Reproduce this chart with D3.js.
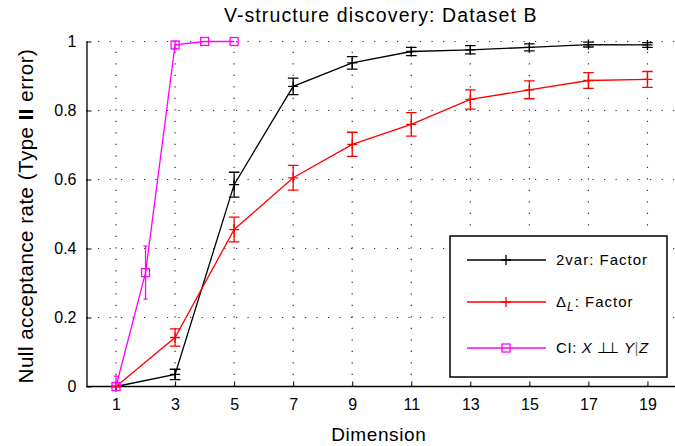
<!DOCTYPE html>
<html>
<head>
<meta charset="utf-8">
<script src="https://cdn.jsdelivr.net/npm/d3@7"></script>
<style>
  body { margin: 0; background: #fff; }
  svg { display: block; font-family: "Liberation Sans", Arial, sans-serif; }
</style>
</head>
<body>
<div id="plot"></div>
<script>
/* V-structure discovery, null acceptance rate vs dimension */

const dims = [1, 3, 5, 7, 9, 11, 13, 15, 17, 19]
const twoVar = [0, 0.035, 0.585, 0.87, 0.938, 0.971, 0.976, 0.983, 0.991, 0.990]
const twoVarErr = [0, 0.015, 0.036, 0.024, 0.018, 0.012, 0.012, 0.010, 0.007, 0.007]
const deltaL = [0, 0.142, 0.455, 0.605, 0.702, 0.760, 0.832, 0.860, 0.887, 0.890]
const deltaLErr = [0, 0.025, 0.036, 0.036, 0.035, 0.034, 0.028, 0.026, 0.023, 0.023]
const ciDims = [1, 2, 3, 4, 5]
const ci = [0, 0.33, 0.99, 1, 1]
const ciErr = [0.03, 0.077, 0.01, 0, 0]

const xTicks = [1, 3, 5, 7, 9, 11, 13, 15, 17, 19]
const yTicks = [0, 0.2, 0.4, 0.6, 0.8, 1]

const width = 675, height = 446
const margin = {top: 41.5, right: -2, bottom: 59.5, left: 86.5}

const svg = d3.select("#plot").append("svg")
	.attr("width", width)
	.attr("height", height)

const x = d3.scaleLinear()
	.domain([0, 20])
	.range([margin.left, width - margin.right])

const y = d3.scaleLinear()
	.domain([0, 1])
	.range([height - margin.bottom, margin.top])

svg.append("defs").append("clipPath").attr("id", "clip")
	.append("rect")
	.attr("x", margin.left).attr("y", margin.top - 1)
	.attr("width", width - margin.left).attr("height", y(0) - margin.top + 1)

// dotted grid
const grid = svg.append("g").attr("stroke", "#333").attr("stroke-width", 1.2)
	.attr("stroke-dasharray", "1.2,10.3")
grid.selectAll(".hg").data(yTicks.filter(d => d > 0)).join("line")
	.attr("x1", margin.left).attr("x2", width)
	.attr("y1", d => y(d)).attr("y2", d => y(d))
grid.selectAll(".vg").data(xTicks).join("line")
	.attr("x1", d => x(d)).attr("x2", d => x(d))
	.attr("y1", y(0)).attr("y2", y(1))

// axes
svg.append("g")
	.attr("transform", `translate(0,${y(0)})`)
	.call(d3.axisBottom(x).tickValues(xTicks).tickSizeInner(-5).tickSizeOuter(0).tickPadding(12))
	.call(g => g.select(".domain").attr("d", `M${margin.left},0H${width}`).attr("stroke-width", 1.3))
	.call(g => g.selectAll("text").attr("font-size", 16).attr("font-family", "Liberation Sans").attr("fill", "#000"))

svg.append("g")
	.attr("transform", `translate(${margin.left},0)`)
	.call(d3.axisLeft(y).tickValues(yTicks).tickFormat(d3.format("~g")).tickSizeInner(-5).tickSizeOuter(0).tickPadding(10))
	.call(g => g.select(".domain").attr("stroke-width", 1.3))
	.call(g => g.selectAll("text").attr("font-size", 16).attr("font-family", "Liberation Sans").attr("fill", "#000"))

// series
function drawSeries(xs, vals, errs, color, marker, cap){
	const pts = xs.map((d, i) => [d, vals[i], errs[i]])
	const g = svg.append("g")
	const line = d3.line().x(d => x(d[0])).y(d => y(d[1]))
	g.append("path").datum(pts)
		.attr("fill", "none").attr("stroke", color).attr("stroke-width", 1.3)
		.attr("d", line)
	const eb = g.append("g").attr("clip-path", "url(#clip)")
		.attr("stroke", color).attr("stroke-width", 1.3)
		.selectAll("g").data(pts.filter(d => d[2] > 0)).join("g")
	eb.append("line")
		.attr("x1", d => x(d[0])).attr("x2", d => x(d[0]))
		.attr("y1", d => y(d[1] - d[2])).attr("y2", d => y(d[1] + d[2]))
	eb.append("line")
		.attr("x1", d => x(d[0]) - cap).attr("x2", d => x(d[0]) + cap)
		.attr("y1", d => y(d[1] - d[2])).attr("y2", d => y(d[1] - d[2]))
	eb.append("line")
		.attr("x1", d => x(d[0]) - cap).attr("x2", d => x(d[0]) + cap)
		.attr("y1", d => y(d[1] + d[2])).attr("y2", d => y(d[1] + d[2]))
	if( marker == "plus" ){
		g.selectAll(".m").data(pts).join("path")
			.attr("stroke", color).attr("stroke-width", 1.3)
			.attr("d", d => `M${x(d[0]) - 5},${y(d[1])}h10M${x(d[0])},${y(d[1]) - 5}v10`)
	} else {
		g.selectAll(".m").data(pts).join("rect")
			.attr("fill", "none").attr("stroke", color).attr("stroke-width", 1.3)
			.attr("x", d => x(d[0]) - 4).attr("y", d => y(d[1]) - 4)
			.attr("width", 8).attr("height", 8)
	}
}

drawSeries(dims, twoVar, twoVarErr, "#000", "plus", 5.3)
drawSeries(dims, deltaL, deltaLErr, "#ff0000", "plus", 5.3)
drawSeries(ciDims, ci, ciErr, "#ff00ff", "square", 2)

// labels
svg.append("text")
	.attr("x", (margin.left + width) / 2).attr("y", 22)
	.attr("text-anchor", "middle")
	.attr("font-size", 19.5).attr("letter-spacing", 1.1)
	.text("V-structure discovery: Dataset B")

svg.append("text")
	.attr("x", (margin.left + width) / 2 - 2).attr("y", 441)
	.attr("text-anchor", "middle")
	.attr("font-size", 19).attr("letter-spacing", 0.6)
	.text("Dimension")

const yl = svg.append("text")
	.attr("transform", `translate(33,${(y(0) + y(1)) / 2 + 2}) rotate(-90)`)
	.attr("text-anchor", "middle")
	.attr("font-size", 20.5).attr("letter-spacing", 0.5)
yl.append("tspan").text("Null acceptance rate (Type ")
yl.append("tspan").attr("font-weight", "bold").text("II")
yl.append("tspan").text(" error)")

// legend
const leg = svg.append("g")
leg.append("rect")
	.attr("x", 450).attr("y", 236).attr("width", 217).attr("height", 141)
	.attr("fill", "#fff").attr("stroke", "#000").attr("stroke-width", 1.5)

const legRows = [
	{color: "#000", marker: "plus", y: 260},
	{color: "#ff0000", marker: "plus", y: 302},
	{color: "#ff00ff", marker: "square", y: 348}
]
legRows.forEach(r => {
	leg.append("line").attr("x1", 467).attr("x2", 546).attr("y1", r.y).attr("y2", r.y)
		.attr("stroke", r.color).attr("stroke-width", 1.3)
	if( r.marker == "plus" ){
		leg.append("path").attr("stroke", r.color).attr("stroke-width", 1.3)
			.attr("d", `M501,${r.y}h10M506,${r.y - 5}v10`)
	} else {
		leg.append("rect").attr("x", 502).attr("y", r.y - 4).attr("width", 8).attr("height", 8)
			.attr("fill", "none").attr("stroke", r.color).attr("stroke-width", 1.3)
	}
})

const t1 = leg.append("text").attr("x", 556).attr("y", 265)
	.attr("font-size", 15).attr("letter-spacing", 1)
t1.text("2var:  Factor")

const t2 = leg.append("text").attr("x", 556).attr("y", 307)
	.attr("font-size", 15).attr("letter-spacing", 1)
t2.append("tspan").text("Δ")
t2.append("tspan").attr("font-style", "italic").attr("font-size", 12).attr("dy", 4).text("L")
t2.append("tspan").attr("dy", -4).text(":  Factor")

const t3 = leg.append("text").attr("x", 556).attr("y", 353)
	.attr("font-size", 15).attr("letter-spacing", 0.6)
t3.append("tspan").text("CI:  ")
t3.append("tspan").attr("font-style", "italic").text("X")
t3.append("tspan").text("  ")
t3.append("tspan").attr("letter-spacing", -4.5).text("⊥⊥")
t3.append("tspan").attr("dx", 5).text("  ")
t3.append("tspan").attr("font-style", "italic").text("Y")
t3.append("tspan").attr("fill", "#777").text("|")
t3.append("tspan").attr("font-style", "italic").text("Z")
</script>
</body>
</html>
